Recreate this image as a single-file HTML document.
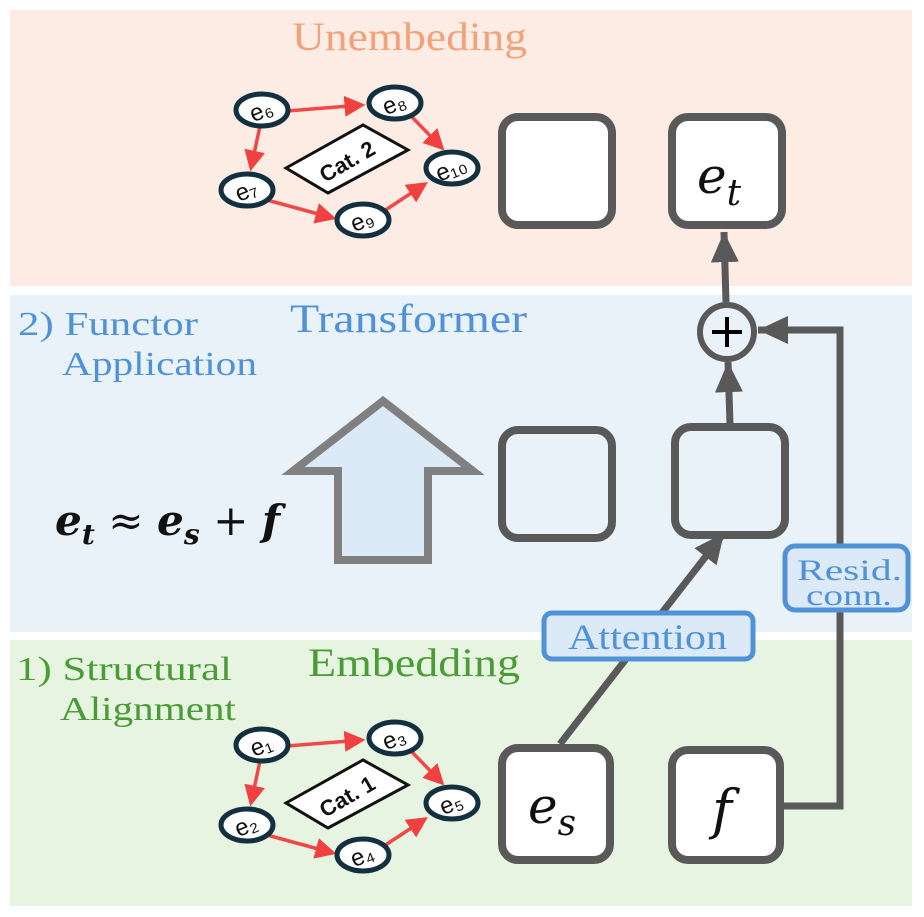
<!DOCTYPE html>
<html><head><meta charset="utf-8"><style>
html,body{margin:0;padding:0;background:#fff;}
svg{display:block;}
</style></head><body>
<svg width="924" height="917" viewBox="0 0 924 917" xmlns="http://www.w3.org/2000/svg">
<defs>
<marker id="ra" markerWidth="6" markerHeight="6" refX="5" refY="3" orient="auto" markerUnits="strokeWidth"><path d="M0,0 L6,3 L0,6 z" fill="#f04040"/></marker>
<marker id="ga" markerWidth="5" markerHeight="5" refX="4.3" refY="2" orient="auto" markerUnits="strokeWidth"><path d="M0,0 L4.3,2 L0,4 z" fill="#595959"/></marker>
<g id="graph">
  <g stroke="#f04848" stroke-width="3.5" fill="none" marker-end="url(#ra)">
    <line x1="287" y1="746" x2="362" y2="740"/>
    <line x1="260" y1="761" x2="251" y2="803"/>
    <line x1="411" y1="751" x2="442" y2="783"/>
    <line x1="267" y1="835" x2="333" y2="853"/>
    <line x1="384" y1="846" x2="425" y2="819"/>
  </g>
  <g fill="#fff" stroke="#12303f" stroke-width="5">
    <ellipse cx="262" cy="745" rx="26" ry="16"/>
    <ellipse cx="395" cy="738" rx="26" ry="16"/>
    <ellipse cx="247" cy="825" rx="26" ry="16"/>
    <ellipse cx="363" cy="855" rx="26" ry="16"/>
    <ellipse cx="452" cy="803" rx="26" ry="16"/>
  </g>
  <polygon points="286,803 363,760 408,785 328,828" fill="#fff" stroke="#111" stroke-width="3"/>
</g>
</defs>
<rect x="10" y="10" width="902" height="276" fill="#fdece3"/>
<rect x="10" y="295" width="902" height="337" fill="#e9f1f9"/>
<rect x="10" y="640" width="902" height="266" fill="#e7f4e1"/>

<g font-family="'Liberation Serif',serif">
<text x="292" y="50" font-size="40" fill="#f2a27a" textLength="235" lengthAdjust="spacingAndGlyphs">Unembeding</text>
<text x="290" y="332" font-size="40" fill="#4f92d8" textLength="237" lengthAdjust="spacingAndGlyphs">Transformer</text>
<text x="18" y="335" font-size="34" fill="#4f92d8" textLength="180" lengthAdjust="spacingAndGlyphs">2) Functor</text>
<text x="62" y="375" font-size="34" fill="#4f92d8" textLength="195" lengthAdjust="spacingAndGlyphs">Application</text>
<text x="308" y="676" font-size="40" fill="#4a9c35" textLength="212" lengthAdjust="spacingAndGlyphs">Embedding</text>
<text x="16" y="680" font-size="34" fill="#4a9c35" textLength="216" lengthAdjust="spacingAndGlyphs">1) Structural</text>
<text x="60" y="720" font-size="34" fill="#4a9c35" textLength="176" lengthAdjust="spacingAndGlyphs">Alignment</text>
</g>

<use href="#graph"/>
<use href="#graph" transform="translate(0,-635)"/>
<g font-family="'Liberation Sans',sans-serif" font-size="24" fill="#111" text-anchor="middle">
<text transform="translate(264,753) rotate(-22)">e₁</text>
<text transform="translate(397,746) rotate(-22)">e₃</text>
<text transform="translate(249,833) rotate(-22)">e₂</text>
<text transform="translate(365,863) rotate(-22)">e₄</text>
<text transform="translate(454,811) rotate(-22)">e₅</text>
<text transform="translate(351,803) rotate(-30)" font-weight="bold" font-size="22">Cat. 1</text>
<text transform="translate(264,118) rotate(-22)">e₆</text>
<text transform="translate(397,111) rotate(-22)">e₈</text>
<text transform="translate(249,198) rotate(-22)">e₇</text>
<text transform="translate(365,228) rotate(-22)">e₉</text>
<text transform="translate(454,176) rotate(-22)">e₁₀</text>
<text transform="translate(351,168) rotate(-30)" font-weight="bold" font-size="22">Cat. 2</text>
</g>

<g fill="#fff" stroke="#595959" stroke-width="8">
<rect x="502" y="117" width="110" height="108" rx="16"/>
<rect x="672" y="117" width="110" height="108" rx="16"/>
<rect x="502" y="430" width="110" height="108" rx="16" fill="none"/>
<rect x="675" y="427" width="110" height="108" rx="16" fill="none"/>
<rect x="502" y="748" width="108" height="112" rx="16"/>
<rect x="672" y="750" width="108" height="110" rx="16"/>
</g>
<g font-family="'DejaVu Serif','Liberation Serif',serif" font-style="italic" fill="#111">
<text x="697" y="193" font-size="50">e<tspan font-size="36" dy="12">t</tspan></text>
<text x="528" y="823" font-size="50">e<tspan font-size="36" dy="12">s</tspan></text>
<text x="712" y="828" font-size="54">f</text>
</g>

<g stroke="#595959" stroke-width="7" fill="none">
<line x1="730" y1="424" x2="728" y2="362" marker-end="url(#ga)"/>
<line x1="726" y1="302" x2="724" y2="232" marker-end="url(#ga)"/>
<line x1="560" y1="744" x2="724" y2="533" marker-end="url(#ga)"/>
<polyline points="784,806 840,806 840,330 758,330" marker-end="url(#ga)"/>
</g>
<circle cx="727" cy="332" r="27" fill="#e9f1f9" stroke="#595959" stroke-width="6"/>
<path d="M712,332 H742 M727,317 V347" stroke="#000" stroke-width="4"/>

<rect x="544" y="613" width="209" height="46" rx="8" fill="#dce9f6" stroke="#4f92d8" stroke-width="5"/>
<text x="568" y="649" font-family="'Liberation Serif',serif" font-size="36" fill="#4f92d8" textLength="159" lengthAdjust="spacingAndGlyphs">Attention</text>
<rect x="785" y="546" width="123" height="64" rx="10" fill="#dce9f6" stroke="#4f92d8" stroke-width="5"/>
<text x="797" y="580" font-family="'Liberation Serif',serif" font-size="30" fill="#4f92d8" textLength="105" lengthAdjust="spacingAndGlyphs">Resid.</text>
<text x="806" y="605" font-family="'Liberation Serif',serif" font-size="30" fill="#4f92d8" textLength="86" lengthAdjust="spacingAndGlyphs">conn.</text>

<polygon points="383,401 293,471 338,471 338,560 428,560 428,471 473,471" fill="#dce9f6" stroke="#808080" stroke-width="8"/>

<text x="55" y="535" font-family="'DejaVu Serif','Liberation Serif',serif" font-style="italic" font-weight="bold" font-size="42" fill="#111" textLength="225" lengthAdjust="spacingAndGlyphs">e<tspan font-size="28" dy="9">t</tspan><tspan dy="-9" font-style="normal" font-weight="normal"> ≈ </tspan>e<tspan font-size="28" dy="9">s</tspan><tspan dy="-9" font-style="normal" font-weight="normal"> + </tspan>f</text>
</svg>
</body></html>
